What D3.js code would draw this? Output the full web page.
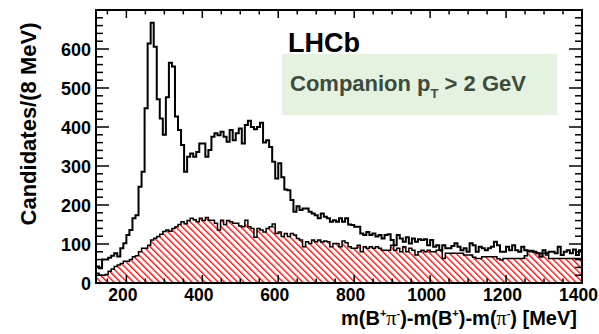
<!DOCTYPE html>
<html><head><meta charset="utf-8">
<script src="https://cdn.jsdelivr.net/npm/d3@7"></script>
<style>
html,body{margin:0;padding:0;background:#fff;}
svg text{font-family:"Liberation Sans",Arial,Helvetica,sans-serif;font-weight:bold;}
</style></head>
<body>
<svg id="c" width="599" height="334"></svg>
<script>
// ---- data (8 MeV bins from 120 to 1400 MeV) ----
const binStart = 120, binWidth = 8;
const totalCounts = [42,38,60,60,65,70,76,68,89,102,123,136,166,174,247,285,448,614,667,606,
471,422,380,476,565,555,427,392,354,285,324,332,324,336,358,358,324,341,375,384,
379,388,375,362,392,366,384,396,358,405,416,400,394,400,411,360,366,349,311,268,
307,271,240,238,213,183,197,187,191,191,183,178,174,166,178,170,166,157,161,157,
166,157,166,150,149,144,144,127,123,131,123,127,119,123,114,123,125,110,97,123,
114,106,117,101,114,106,112,110,112,97,110,93,97,84,97,89,89,95,102,93,
84,89,80,102,97,80,93,89,84,89,93,106,97,80,80,93,84,97,84,80,
93,84,83,83,80,76,67,84,76,80,80,76,93,72,80,84,76,86,72,84];
const bkgCounts = [25,20,20,22,30,36,42,46,50,56,56,60,67,70,80,89,89,97,110,115,
119,125,132,136,133,140,144,150,157,152,160,166,162,157,166,160,168,161,161,153,
136,161,150,160,157,153,153,146,144,161,144,140,117,140,136,131,140,144,151,127,
131,119,127,119,127,123,114,110,93,106,101,110,106,110,105,108,106,93,101,101,
93,108,103,93,89,89,97,80,93,89,93,89,93,89,84,84,84,97,84,89,
80,93,80,89,84,72,80,84,80,84,80,80,84,84,63,76,76,76,76,76,
76,72,72,72,66,63,63,67,67,67,67,67,62,59,63,63,63,63,63,63,
63,70,80,80,80,76,76,76,72,63,63,63,63,63,63,63,63,63,63,63];
const xTickValues = [200,400,600,800,1000,1200,1400];
const yTickValues = [0,100,200,300,400,500,600];
const yTitle = "Candidates/(8 MeV)";
const experimentLabel = "LHCb";

// ---- layout ----
const svg = d3.select("#c");
const L = 96, R = 582, T = 10, B = 283;
const x = d3.scaleLinear().domain([120,1400]).range([L,R]);
const y = d3.scaleLinear().domain([0,700]).range([B,T]);

const defs = svg.append("defs");
const pat = defs.append("pattern").attr("id","hatch").attr("patternUnits","userSpaceOnUse")
  .attr("width",4.6).attr("height",10).attr("patternTransform","rotate(-45)");
pat.append("rect").attr("x",0).attr("y",0).attr("width",1.3).attr("height",10).attr("fill","#ff0000");
defs.append("clipPath").attr("id","clip").append("rect").attr("x",L).attr("y",T).attr("width",R-L).attr("height",B-T);

// legend box
svg.append("rect").attr("x",282).attr("y",54).attr("width",275).attr("height",61).attr("fill","#e4f2df");

function pts(arr){
  const p = arr.map((v,i)=>[binStart+i*binWidth, v]);
  p.push([binStart+arr.length*binWidth, arr[arr.length-1]]);
  return p;
}
const g = svg.append("g").attr("clip-path","url(#clip)");
const area = d3.area().curve(d3.curveStepAfter).x(d=>x(d[0])).y0(y(0)).y1(d=>y(d[1]));
const line = d3.line().curve(d3.curveStepAfter).x(d=>x(d[0])).y(d=>y(d[1]));
g.append("path").attr("d",area(pts(bkgCounts))).attr("fill","url(#hatch)");
g.append("path").attr("d",line(pts(bkgCounts))).attr("fill","none").attr("stroke","#000").attr("stroke-width",1.5);
g.append("path").attr("d",line(pts(totalCounts))).attr("fill","none").attr("stroke","#000").attr("stroke-width",2);

// frame
svg.append("rect").attr("x",L).attr("y",T).attr("width",R-L).attr("height",B-T)
  .attr("fill","none").attr("stroke","#000").attr("stroke-width",2);

// ticks
const tk = svg.append("g").attr("stroke","#000").attr("stroke-width",1.5);
d3.range(150,1400,50).forEach(v=>{
  const major = v%200===0; const len = major?8:4.5;
  tk.append("line").attr("x1",x(v)).attr("x2",x(v)).attr("y1",B).attr("y2",B-len);
  tk.append("line").attr("x1",x(v)).attr("x2",x(v)).attr("y1",T).attr("y2",T+len);
});
d3.range(20,700,20).forEach(v=>{
  const major = v%100===0; const len = major?13:7;
  tk.append("line").attr("y1",y(v)).attr("y2",y(v)).attr("x1",L).attr("x2",L+len);
  tk.append("line").attr("y1",y(v)).attr("y2",y(v)).attr("x1",R).attr("x2",R-len);
});

// tick labels
svg.append("g").selectAll("text").data(xTickValues).join("text")
  .attr("x",d=>x(d)-3.5).attr("y",300.5).attr("text-anchor","middle").attr("font-size",17.5).text(d=>d);
svg.append("g").selectAll("text").data(yTickValues).join("text")
  .attr("x",91).attr("y",d=>y(d)+6.5).attr("text-anchor","end").attr("font-size",18).text(d=>d);

// axis titles
svg.append("text").attr("transform","translate(36,124) rotate(-90)").attr("text-anchor","middle")
  .attr("font-size",22).text(yTitle);
const xt = svg.append("text").attr("x",577).attr("y",325).attr("text-anchor","end").attr("font-size",20);
const parts = [["m(B",0],["+",1],["π",2],["-",1],[")-m(B",0],["+",1],[")-m(",0],["π",2],["-",1],[") [MeV]",0]];
parts.forEach(([t,k],i)=>{
  const s = xt.append("tspan").text(t);
  if(k===1){ s.attr("font-size",11).attr("dy",-8); }
  if(k===2){ s.attr("style","font-family:'Liberation Serif','Times New Roman',serif;font-weight:normal"); }
  if(i>0 && parts[i-1][1]===1 && k!==1) s.attr("dy",8);
});

// LHCb label
svg.append("text").attr("x",288).attr("y",51.5).attr("font-size",27).text(experimentLabel);
const lt = svg.append("text").attr("x",290).attr("y",91).attr("font-size",22).attr("fill","#3c4b3c");
lt.append("tspan").text("Companion p");
lt.append("tspan").attr("font-size",13).attr("dy",7).text("T");
lt.append("tspan").attr("dy",-7).text(" > 2 GeV");
</script>
</body></html>
